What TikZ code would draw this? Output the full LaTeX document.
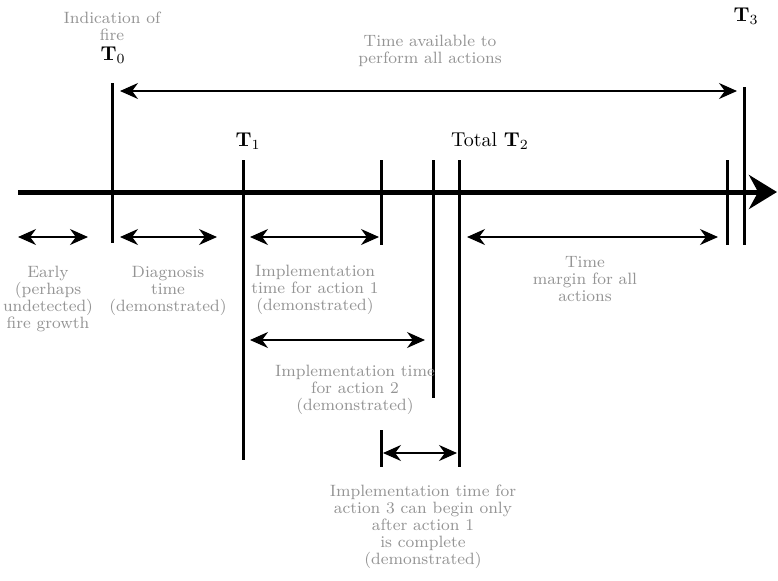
\documentclass[tikz,border=0pt]{standalone}
\usepackage{amsmath}
\usepackage{tikz}
\usetikzlibrary{arrows.meta,positioning}
\pgfdeclarelayer{edgelayer}
\pgfdeclarelayer{nodelayer}
\pgfsetlayers{edgelayer,nodelayer,main}
\definecolor{lgrey}{rgb}{0.58,0.58,0.58}
\tikzstyle{none}=[inner sep=0pt]
\tikzstyle{caption}=[inner sep=0pt,align=center,text=lgrey,font=\fontsize{8.2}{8.5}\selectfont]
\tikzstyle{tlabel}=[inner sep=0pt,font=\fontsize{10}{12}\selectfont]
\tikzstyle{timeaxis}=[-{Stealth[length=14pt,width=17pt]},line width=2.5pt]
\tikzstyle{marker}=[-,line width=1.5pt]
\tikzstyle{span}=[{Stealth[length=9pt,width=8pt]}-{Stealth[length=9pt,width=8pt]},line width=0.6pt]

\begin{document}
\begin{tikzpicture}[x=0.5pt,y=-0.5pt]
	\useasboundingbox (0,0) rectangle (778,580);
	\begin{pgfonlayer}{nodelayer}
		\node [style=caption] (fire) at (112,26) {Indication of\\fire};
		\node [style=tlabel] (T0) at (113,55) {$\mathbf{T}_0$};
		\node [style=tlabel] (T1) at (248,141) {$\mathbf{T}_1$};
		\node [style=tlabel] (T2) at (490,141) {Total $\mathbf{T}_2$};
		\node [style=tlabel] (T3) at (746,16) {$\mathbf{T}_3$};
		\node [style=caption] (avail) at (430,51) {Time available to\\perform all actions};
		\node [style=caption] (early) at (48,299) {Early\\(perhaps\\undetected)\\fire growth};
		\node [style=caption] (diag) at (168,291) {Diagnosis\\time\\(demonstrated)};
		\node [style=caption] (act1) at (315,290) {Implementation\\time for action 1\\(demonstrated)};
		\node [style=caption] (act2) at (355,390) {Implementation time\\for action 2\\(demonstrated)};
		\node [style=caption] (act3) at (423,527) {Implementation time for\\action 3 can begin only\\after action 1\\is complete\\(demonstrated)};
		\node [style=caption] (margin) at (585,279) {Time\\margin for all\\actions};
		% axis
		\node [style=none] (AL) at (18,192) {};
		\node [style=none] (AR) at (777,192) {};
		% markers
		\node [style=none] (T0t) at (112,83) {};
		\node [style=none] (T0b) at (112,243) {};
		\node [style=none] (T1t) at (243,160) {};
		\node [style=none] (T1b) at (243,460) {};
		\node [style=none] (A1t) at (381,160) {};
		\node [style=none] (A1b) at (381,245) {};
		\node [style=none] (A3t) at (381,430) {};
		\node [style=none] (A3b) at (381,467) {};
		\node [style=none] (A2t) at (433,160) {};
		\node [style=none] (A2b) at (433,398) {};
		\node [style=none] (T2t) at (459,160) {};
		\node [style=none] (T2b) at (459,467) {};
		\node [style=none] (Mt) at (727,160) {};
		\node [style=none] (Mb) at (727,245) {};
		\node [style=none] (T3t) at (744,87) {};
		\node [style=none] (T3b) at (744,245) {};
		% spans
		\node [style=none] (avL) at (120,91) {};
		\node [style=none] (avR) at (737,91) {};
		\node [style=none] (eL) at (18,237) {};
		\node [style=none] (eR) at (88,237) {};
		\node [style=none] (dL) at (120,237) {};
		\node [style=none] (dR) at (217,237) {};
		\node [style=none] (i1L) at (250,237) {};
		\node [style=none] (i1R) at (379,237) {};
		\node [style=none] (i2L) at (250,340) {};
		\node [style=none] (i2R) at (425,340) {};
		\node [style=none] (i3L) at (383,453) {};
		\node [style=none] (i3R) at (457,453) {};
		\node [style=none] (mL) at (467,237) {};
		\node [style=none] (mR) at (718,237) {};
	\end{pgfonlayer}
	\begin{pgfonlayer}{edgelayer}
		\draw [style=timeaxis] (AL.center) to (AR.center);
		\draw [style=marker] (T0t.center) to (T0b.center);
		\draw [style=marker] (T1t.center) to (T1b.center);
		\draw [style=marker] (A1t.center) to (A1b.center);
		\draw [style=marker] (A3t.center) to (A3b.center);
		\draw [style=marker] (A2t.center) to (A2b.center);
		\draw [style=marker] (T2t.center) to (T2b.center);
		\draw [style=marker] (Mt.center) to (Mb.center);
		\draw [style=marker] (T3t.center) to (T3b.center);
		\draw [style=span] (avL.center) to (avR.center);
		\draw [style=span] (eL.center) to (eR.center);
		\draw [style=span] (dL.center) to (dR.center);
		\draw [style=span] (i1L.center) to (i1R.center);
		\draw [style=span] (i2L.center) to (i2R.center);
		\draw [style=span] (i3L.center) to (i3R.center);
		\draw [style=span] (mL.center) to (mR.center);
	\end{pgfonlayer}
\end{tikzpicture}
\end{document}
